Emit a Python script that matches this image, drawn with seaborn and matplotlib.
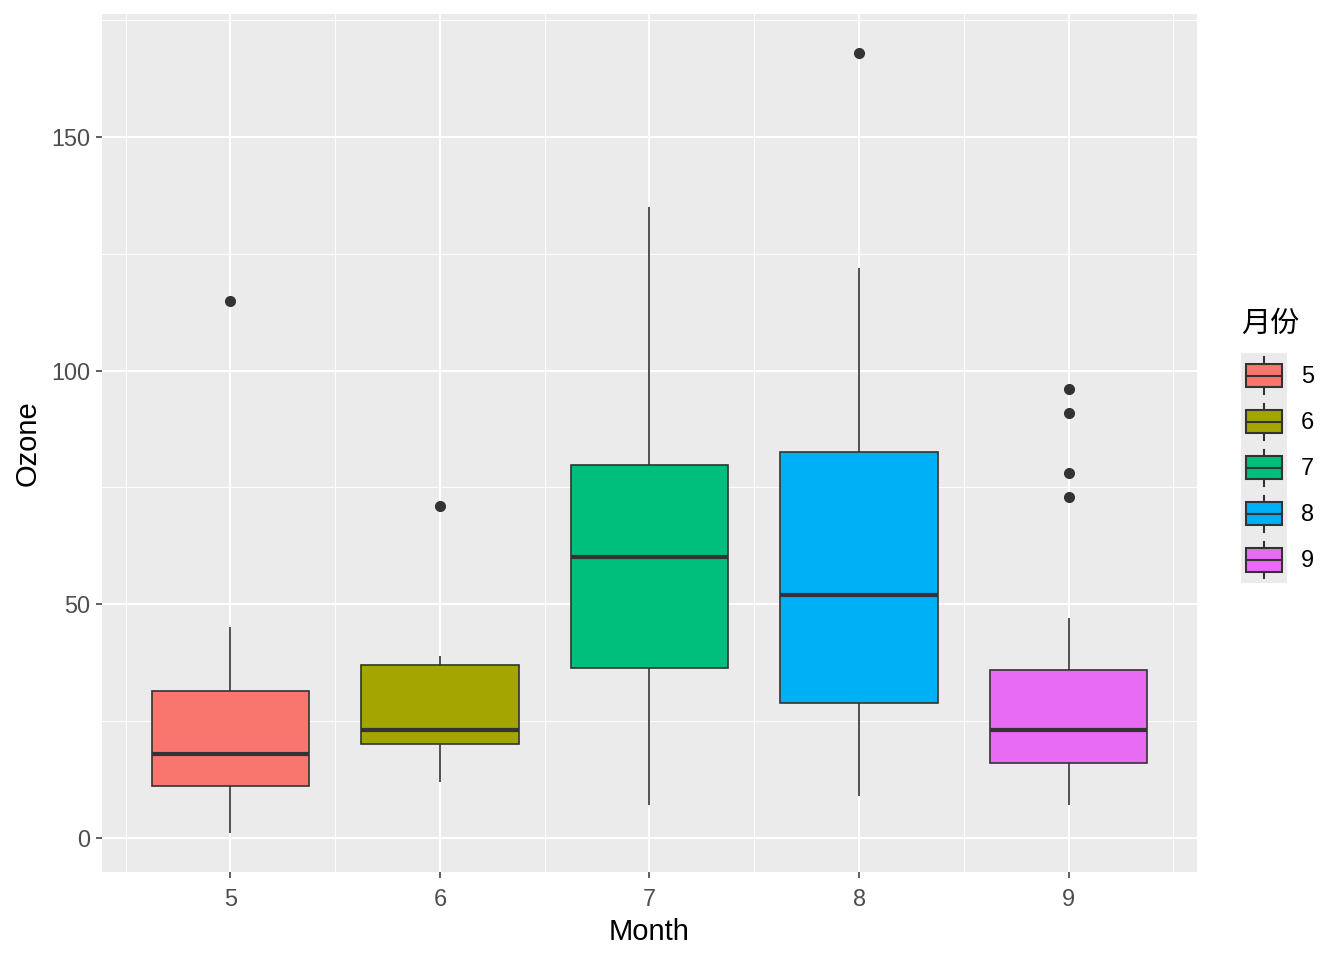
import pandas as pd
import seaborn as sns
import matplotlib.pyplot as plt
from matplotlib.patches import Patch, Rectangle
from matplotlib.lines import Line2D
from matplotlib.ticker import MultipleLocator

# Ozone readings per month (airquality, NA removed)
ozone_may = [41, 36, 12, 18, 28, 23, 19, 8, 7, 16, 11, 14, 18, 14, 34, 6, 30, 11, 1, 11, 4, 32,
             23, 45, 115, 37]
ozone_jun = [29, 71, 39, 23, 21, 37, 20, 12, 13]
ozone_jul = [135, 49, 32, 64, 40, 77, 97, 97, 85, 10, 27, 7, 48, 35, 61, 79, 63, 16, 80, 108,
             20, 52, 82, 50, 64, 59]
ozone_aug = [39, 9, 16, 78, 35, 66, 122, 89, 110, 44, 28, 65, 22, 59, 23, 31, 44, 21, 9, 45,
             168, 73, 76, 118, 84, 85]
ozone_sep = [96, 78, 73, 91, 47, 32, 20, 23, 21, 24, 44, 21, 28, 9, 13, 46, 18, 13, 24, 16, 13,
             23, 36, 7, 14, 30, 14, 18, 20]
months = [5, 6, 7, 8, 9]
month_colors = ["#F8766D", "#A3A500", "#00BF7D", "#00B0F6", "#E76BF3"]

rows = []
for m, vals in zip(months, [ozone_may, ozone_jun, ozone_jul, ozone_aug, ozone_sep]):
    rows += [(m, v) for v in vals]
df = pd.DataFrame(rows, columns=["Month", "Ozone"])
df["月份"] = df["Month"].astype(str)
palette = {str(m): c for m, c in zip(months, month_colors)}

plt.rcParams["font.family"] = ["Liberation Sans", "DejaVu Sans"]
DARK = "#333333"

fig = plt.figure(figsize=(13.44, 9.6), dpi=100)
ax = fig.add_axes([102 / 1344, 88 / 960, (1197 - 102) / 1344, (946 - 88) / 960])
ax.set_facecolor("#EBEBEB")
ax.set_axisbelow(True)

sns.boxplot(
    data=df, x="Month", y="Ozone", hue="月份", palette=palette, native_scale=True,
    dodge=False, width=0.75, saturation=1, linecolor=DARK, linewidth=1.2, showcaps=False,
    flierprops=dict(marker="o", markerfacecolor=DARK, markeredgecolor=DARK, markersize=7),
    medianprops=dict(color=DARK, linewidth=3), legend=False, ax=ax,
)

ax.set_xlim(4.3875, 9.6125)
ax.set_ylim(-7.35, 176.35)
ax.set_xticks(months)
ax.set_xticklabels([str(m) for m in months])
ax.xaxis.set_minor_locator(MultipleLocator(1, offset=0.5))
ax.yaxis.set_major_locator(MultipleLocator(50))
ax.yaxis.set_minor_locator(MultipleLocator(50, offset=25))
ax.grid(which="major", color="white", linewidth=1.5)
ax.grid(which="minor", color="white", linewidth=0.7)
for s in ax.spines.values():
    s.set_visible(False)
ax.tick_params(which="major", length=4.3, width=1.1, color=DARK, labelcolor="#4D4D4D",
               labelsize=16.9, pad=4)
ax.tick_params(axis="x", which="major", pad=7)
ax.tick_params(which="minor", length=0)
ax.set_xlabel("Month", fontsize=21, color="black", labelpad=5)
ax.set_ylabel("Ozone", fontsize=21, color="black", labelpad=7)


class BoxKeyHandler:
    def legend_artist(self, legend, orig_handle, fontsize, handlebox):
        x0, y0 = -handlebox.xdescent, -handlebox.ydescent
        w, h = handlebox.width, handlebox.height
        tr = handlebox.get_transform()
        bg = Rectangle((x0, y0), w, h, facecolor="#EBEBEB", edgecolor="none", transform=tr)
        box = Rectangle((x0 + 0.1 * w, y0 + 0.25 * h), 0.8 * w, 0.5 * h,
                        facecolor=orig_handle.get_facecolor(), edgecolor=DARK, linewidth=1.5,
                        transform=tr)
        med = Line2D([x0 + 0.1 * w, x0 + 0.9 * w], [y0 + 0.5 * h] * 2, color=DARK,
                     linewidth=1.5, transform=tr)
        wl = Line2D([x0 + 0.5 * w] * 2, [y0 + 0.1 * h, y0 + 0.25 * h], color=DARK,
                    linewidth=1.5, transform=tr)
        wu = Line2D([x0 + 0.5 * w] * 2, [y0 + 0.75 * h, y0 + 0.9 * h], color=DARK,
                    linewidth=1.5, transform=tr)
        for a in (bg, box, med, wl, wu):
            handlebox.add_artist(a)
        return box


handles = [Patch(facecolor=c, label=str(m)) for m, c in zip(months, month_colors)]
leg = fig.legend(
    handles=handles, loc="center left", bbox_to_anchor=(1241 / 1344, 1 - 446 / 960),
    frameon=False, fontsize=16.9, handler_map={Patch: BoxKeyHandler()},
    handlelength=1.96, handleheight=2.64, labelspacing=0, handletextpad=0.6,
    borderpad=0, borderaxespad=0, alignment="left",
)
leg.set_title("月份", prop={"family": ["Noto Sans CJK SC", "DejaVu Sans"], "size": 21})
leg._legend_box.sep = 10

fig.savefig("out.png", dpi=100)
